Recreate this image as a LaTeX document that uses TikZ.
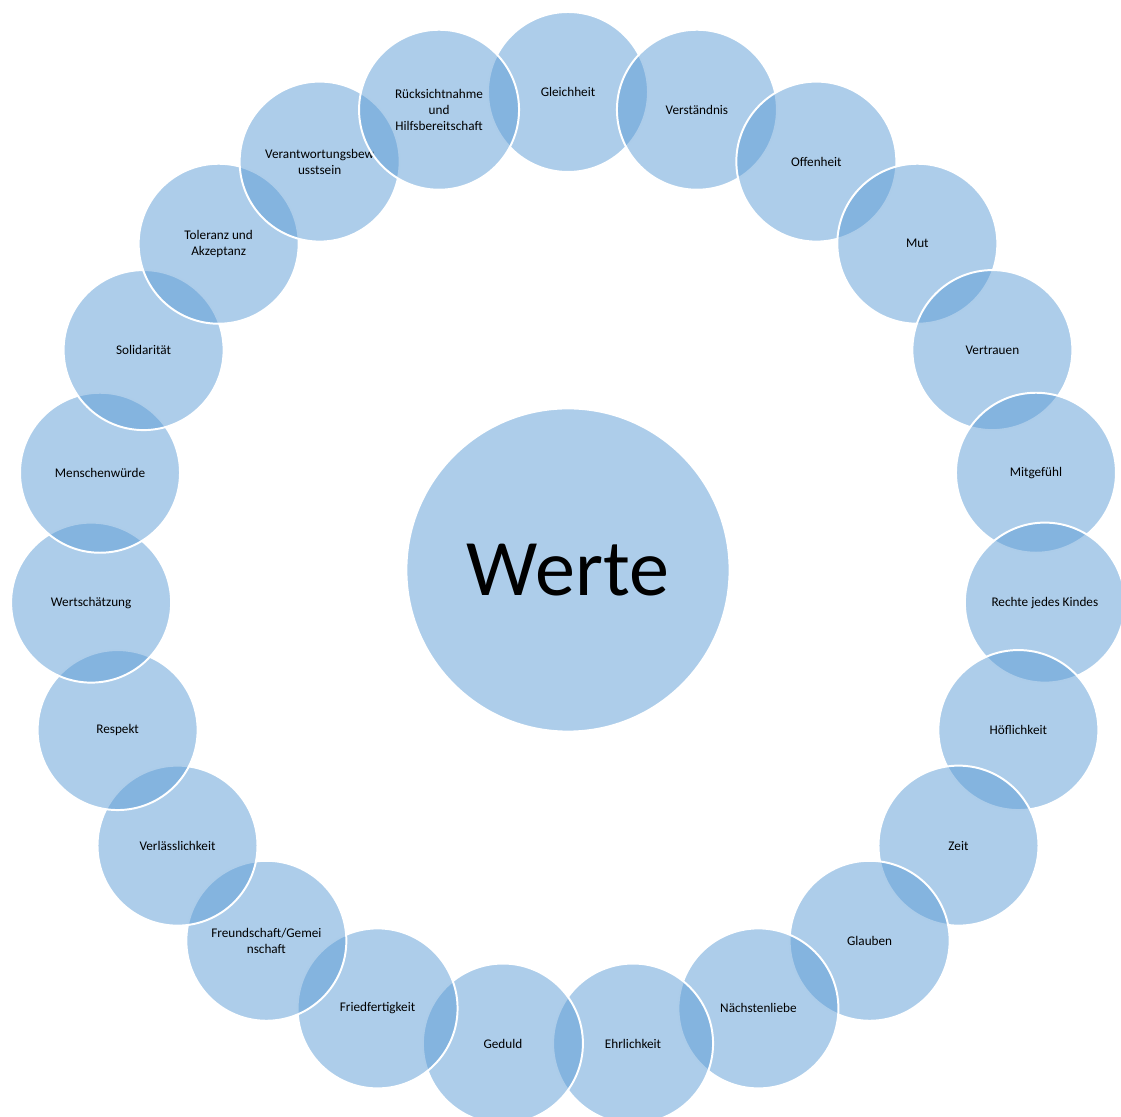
\documentclass[tikz,border=0pt]{standalone}
\usepackage{fontspec}
\setmainfont{Carlito}
\definecolor{wertblau}{HTML}{5B9BD5}

\begin{document}
\begin{tikzpicture}[
    kreis/.style={circle, fill=wertblau, fill opacity=.5, text opacity=1,
        draw=white, line width=1.4pt, inner sep=0pt, align=center},
    wert/.style={kreis, minimum size=4cm, font=\fontsize{9.4}{11.5}\selectfont},
]
\useasboundingbox (-14.2,-13.675) rectangle (13.825,14.25);

% Mitte
\node[kreis, minimum size=8.08cm, font=\fontsize{57}{68}\selectfont] (werte) at (0,0) {Werte};

% Ring der Werte, im Uhrzeigersinn ab oben
\foreach \txt [count=\i from 0] in {Gleichheit, Verständnis, Offenheit, Mut,
    Vertrauen, Mitgefühl, Rechte jedes Kindes, Höflichkeit, Zeit, Glauben,
    Nächstenliebe, Ehrlichkeit, Geduld, Friedfertigkeit,
    {Freundschaft/Gemei\\nschaft}, Verlässlichkeit, Respekt, Wertschätzung,
    Menschenwürde, Solidarität, {Toleranz und\\Akzeptanz},
    {Verantwortungsbew\\usstsein}, {Rücksichtnahme\\und\\Hilfsbereitschaft}}{
    \node[wert] (w\i) at ({90-\i*360/23}:11.95) {\txt};
}
\end{tikzpicture}
\end{document}
